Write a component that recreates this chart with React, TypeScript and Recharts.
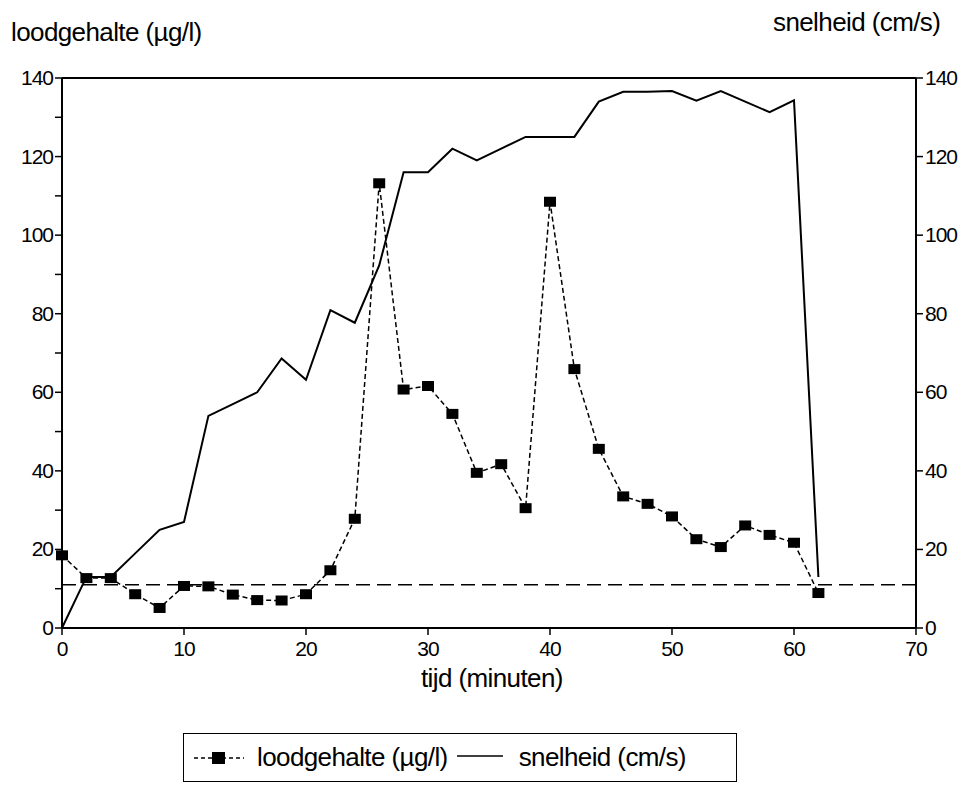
import React from 'react';
import { ComposedChart, Line, XAxis, YAxis, ReferenceLine } from 'recharts';

// tijd in minuten
const tijd = [0, 2, 4, 6, 8, 10, 12, 14, 16, 18, 20, 22, 24, 26, 28, 30, 32, 34, 36, 38, 40, 42, 44, 46, 48, 50, 52, 54, 56, 58, 60, 62];

// loodgehalte (µg/l)
const loodgehalte = [18.5, 12.7, 12.7, 8.6, 5.1, 10.7, 10.6, 8.5, 7.1, 7.0, 8.6, 14.7, 27.8, 113.2, 60.7, 61.6, 54.5, 39.5, 41.7, 30.5, 108.5, 65.9, 45.6, 33.5, 31.6, 28.4, 22.6, 20.6, 26.1, 23.7, 21.7, 8.9];

// snelheid (cm/s)
const snelheid = [0, 13, 13, 19, 25, 27, 54, 57, 60, 68.6, 63.2, 80.9, 77.7, 92.3, 116, 116, 122, 119, 122, 125, 125, 125, 134, 136.5, 136.5, 136.7, 134.2, 136.7, 134, 131.3, 134.3, 13];

const xTicks = [0, 10, 20, 30, 40, 50, 60, 70];
const leftTicks = [0, 10, 20, 30, 40, 50, 60, 70, 80, 90, 100, 110, 120, 130, 140];
const rightTicks = [0, 20, 40, 60, 80, 100, 120, 140];
const norm = 11;

const FONT = '"Liberation Sans", Arial, sans-serif';

const data = tijd.map((t, i) => ({ tijd: t, lood: loodgehalte[i], snelheid: snelheid[i] }));

const LeftTick = (props: any) => {
  const { x, y, payload } = props;
  if (payload.value % 20 !== 0) return <g />;
  return (
    <text x={x} y={y} dy={7} textAnchor="end" fontSize={21} fontFamily={FONT} fill="#000" letterSpacing={-1}>
      {payload.value}
    </text>
  );
};

const RightTick = (props: any) => {
  const { x, y, payload } = props;
  return (
    <text x={x} y={y} dy={7} textAnchor="start" fontSize={21} fontFamily={FONT} fill="#000" letterSpacing={-1}>
      {payload.value}
    </text>
  );
};

const BottomTick = (props: any) => {
  const { x, y, payload } = props;
  return (
    <text x={x} y={y} dy={19} textAnchor="middle" fontSize={21} fontFamily={FONT} fill="#000" letterSpacing={-1}>
      {payload.value}
    </text>
  );
};

const SquareDot = (props: any) => {
  const { cx, cy, index } = props;
  return <rect key={`sq-${index}`} x={cx - 6} y={cy - 5} width={12} height={10} fill="#000" />;
};

const axisLine = { stroke: '#000', strokeWidth: 2 };
const tickLine = { stroke: '#000', strokeWidth: 1.5 };
const titleStyle: React.CSSProperties = { position: 'absolute', fontSize: 26, letterSpacing: -0.6, lineHeight: '30px', whiteSpace: 'nowrap' };

export default function App() {
  return (
    <div style={{ position: 'absolute', left: 0, top: 0, width: 961, height: 787, background: '#fff', fontFamily: FONT }}>
      <div style={{ ...titleStyle, left: 11, top: 17 }}>loodgehalte (µg/l)</div>
      <div style={{ ...titleStyle, left: 773, top: 7 }}>snelheid (cm/s)</div>
      <div style={{ ...titleStyle, left: 421, top: 663 }}>tijd (minuten)</div>

      <ComposedChart width={961} height={787} data={data} margin={{ top: 78, left: 2, right: 5, bottom: 129 }}>
        <XAxis
          dataKey="tijd"
          type="number"
          domain={[0, 70]}
          ticks={xTicks}
          tickSize={7}
          height={30}
          axisLine={axisLine}
          tickLine={tickLine}
          tick={<BottomTick />}
        />
        <YAxis
          yAxisId="lood"
          domain={[0, 140]}
          ticks={leftTicks}
          interval={0}
          tickSize={7}
          width={60}
          axisLine={axisLine}
          tickLine={tickLine}
          tick={<LeftTick />}
        />
        <YAxis
          yAxisId="snel"
          orientation="right"
          domain={[0, 140]}
          ticks={rightTicks}
          interval={0}
          tickSize={7}
          width={40}
          axisLine={axisLine}
          tickLine={tickLine}
          tick={<RightTick />}
        />
        <ReferenceLine yAxisId="lood" y={140} stroke="#000" strokeWidth={2} />
        <ReferenceLine yAxisId="lood" y={norm} stroke="#000" strokeWidth={1.5} strokeDasharray="14 7" />
        <Line
          yAxisId="snel"
          dataKey="snelheid"
          type="linear"
          stroke="#000"
          strokeWidth={2}
          dot={false}
          isAnimationActive={false}
        />
        <Line
          yAxisId="lood"
          dataKey="lood"
          type="linear"
          stroke="#000"
          strokeWidth={1.5}
          strokeDasharray="5 3"
          dot={<SquareDot />}
          isAnimationActive={false}
        />
      </ComposedChart>

      <div
        style={{
          position: 'absolute',
          left: 183,
          top: 733,
          width: 552,
          height: 47,
          border: '1.5px solid #000',
          display: 'flex',
          alignItems: 'center',
          fontSize: 26,
          letterSpacing: -0.6,
          whiteSpace: 'nowrap',
        }}
      >
        <svg width={52} height={20} style={{ marginLeft: 10 }}>
          <line x1={0} y1={10} x2={50} y2={10} stroke="#000" strokeWidth={1.5} strokeDasharray="4 3" />
          <rect x={18} y={4} width={13} height={12} fill="#000" />
        </svg>
        <span style={{ marginLeft: 11 }}>loodgehalte (µg/l)</span>
        <svg width={48} height={20} style={{ marginLeft: 9 }}>
          <line x1={0} y1={8} x2={46} y2={8} stroke="#000" strokeWidth={1.5} />
        </svg>
        <span style={{ marginLeft: 14 }}>snelheid (cm/s)</span>
      </div>
    </div>
  );
}
